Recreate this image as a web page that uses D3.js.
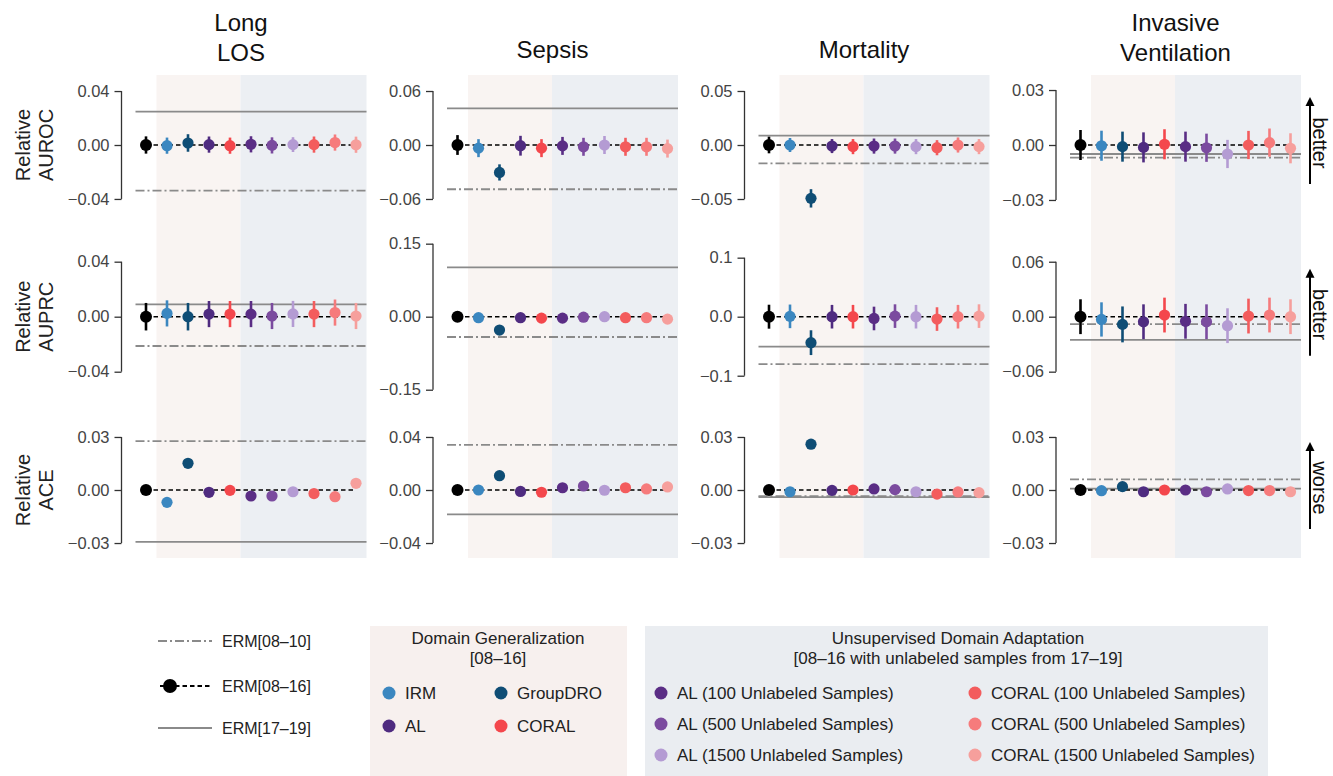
<!DOCTYPE html>
<html>
<head>
<meta charset="utf-8">
<script src="https://cdn.jsdelivr.net/npm/d3@7"></script>
<style>
  body { margin: 0; background: #fff; }
  text { font-family: "Liberation Sans", Arial, sans-serif; }
</style>
</head>
<body>
<div id="container"></div>
<script>
// ---- data ----
const tasks = [["Long", "LOS"], ["Sepsis"], ["Mortality"], ["Invasive", "Ventilation"]];
const metrics = ["AUROC", "AUPRC", "ACE"];
const arrowWords = ["better", "better", "worse"];

const methods = ["ERM[08–16]", "IRM", "GroupDRO", "AL", "CORAL",
  "AL (100 Unlabeled Samples)", "AL (500 Unlabeled Samples)", "AL (1500 Unlabeled Samples)",
  "CORAL (100 Unlabeled Samples)", "CORAL (500 Unlabeled Samples)", "CORAL (1500 Unlabeled Samples)"];
const methodColors = ["#000000", "#3b87c0", "#0f4d75", "#4f2b80", "#f4474c",
  "#5a2d85", "#7b4b9f", "#b49bd3", "#f35c5d", "#f67b7c", "#f69f9c"];

// rows: task order Long LOS, Sepsis, Mortality, Invasive Ventilation
const aurocMean = [
  [0, -0.0005, 0.0015, 0.0003, -0.0005, 0.0005, -0.0003, 0.0003, 0.0003, 0.0018, 0.0002],
  [0, -0.0035, -0.0305, -0.0008, -0.0035, -0.001, -0.002, 0, -0.002, -0.002, -0.004],
  [0, 0, -0.0494, -0.001, -0.0015, -0.001, -0.001, -0.0015, -0.0025, 0, -0.0015],
  [0, -0.0004, -0.0009, -0.0013, 0.0004, -0.0009, -0.0015, -0.0049, 0, 0.0013, -0.0018]
];
const aurocErr = [
  [0.0064, 0.006, 0.0065, 0.006, 0.006, 0.006, 0.006, 0.0055, 0.006, 0.006, 0.006],
  [0.011, 0.010, 0.009, 0.011, 0.010, 0.010, 0.010, 0.010, 0.010, 0.010, 0.010],
  [0.0077, 0.0065, 0.0085, 0.0065, 0.007, 0.007, 0.007, 0.007, 0.007, 0.007, 0.007],
  [0.0082, 0.0082, 0.0082, 0.0082, 0.0082, 0.0082, 0.0077, 0.0077, 0.0077, 0.0077, 0.0082]
];
const auprcMean = [
  [0, 0.0024, 0, 0.0019, 0.0019, 0.0019, 0.0005, 0.002, 0.0019, 0.003, 0.0005],
  [0, -0.002, -0.0274, -0.002, -0.003, -0.003, -0.001, 0, -0.002, -0.002, -0.005],
  [0, 0.0006, -0.044, 0, 0, -0.003, 0.001, 0, -0.004, 0, 0.001],
  [0, -0.003, -0.0084, -0.0055, 0.0018, -0.005, -0.0055, -0.0098, 0.0007, 0.0018, 0]
];
const auprcErr = [
  [0.010, 0.0095, 0.010, 0.0095, 0.0095, 0.0095, 0.0095, 0.0095, 0.0095, 0.0095, 0.0095],
  [0.004, 0.004, 0.004, 0.004, 0.004, 0.004, 0.004, 0.004, 0.004, 0.004, 0.004],
  [0.0203, 0.02, 0.021, 0.02, 0.02, 0.02, 0.02, 0.02, 0.02, 0.02, 0.02],
  [0.019, 0.0187, 0.0196, 0.019, 0.019, 0.019, 0.019, 0.019, 0.019, 0.019, 0.019]
];
const aceMean = [
  [0, -0.007, 0.0151, -0.0013, -0.0002, -0.0034, -0.0034, -0.001, -0.002, -0.0038, 0.0038],
  [0, 0, 0.0108, -0.0011, -0.0017, 0.0017, 0.003, -0.0002, 0.0017, 0.0008, 0.0023],
  [0, -0.001, 0.0259, -0.0002, 0, 0.0006, 0.0002, -0.001, -0.0023, -0.0011, -0.0015],
  [0, -0.0004, 0.0019, -0.001, 0, 0, -0.001, 0.0006, -0.0003, -0.0003, -0.001]
];
const aceErr = [
  [0.002, 0.002, 0.002, 0.002, 0.002, 0.002, 0.002, 0.002, 0.002, 0.002, 0.002],
  [0.001, 0.001, 0.001, 0.001, 0.001, 0.001, 0.001, 0.001, 0.001, 0.001, 0.001],
  [0.0008, 0.0008, 0.0008, 0.0008, 0.0008, 0.0008, 0.0008, 0.0008, 0.0008, 0.0008, 0.0008],
  [0.0006, 0.0006, 0.0006, 0.0006, 0.0006, 0.0006, 0.0006, 0.0006, 0.0006, 0.0006, 0.0006]
];

// reference lines, [metric][task]
const erm0810 = [
  [-0.0339, -0.0492, -0.017, -0.0069],
  [-0.0213, -0.0417, -0.0802, -0.008],
  [0.0277, 0.034, -0.0035, 0.006]
];
const erm1719 = [
  [0.0247, 0.0408, 0.0086, -0.0049],
  [0.009, 0.1015, -0.0508, -0.0254],
  [-0.0293, -0.0184, -0.004, 0.0008]
];

// y axis: symmetric limits, tick at +/- tickMax
const yLimits = [
  [0.0519, 0.0778, 0.0648, 0.0382],
  [0.0509, 0.1438, 0.1186, 0.0764],
  [0.0396, 0.0528, 0.0396, 0.0396]
];
const tickMax = [
  [0.04, 0.06, 0.05, 0.03],
  [0.04, 0.15, 0.1, 0.06],
  [0.03, 0.04, 0.03, 0.03]
];
const tickDigits = [
  [2, 2, 2, 2],
  [2, 2, 1, 2],
  [2, 2, 2, 2]
];

const dgGroup = ["IRM", "GroupDRO", "AL", "CORAL"];
const udaGroup = methods.slice(5);

const means = [aurocMean, auprcMean, aceMean];
const errs = [aurocErr, auprcErr, aceErr];

// ---- layout ----
const w = 1333;
const h = 776;
const colStep = 311.5;
const plotLeft0 = 135.5;
const plotW = 231;
const rowZero = [145, 316.7, 490];
const halfH = 70;
const grey = "#8a8a8a";
const pink = "#f9f4f2";
const blue = "#eceff3";

const svg = d3.select("#container")
              .append("svg")
              .attr("width", w)
              .attr("height", h);

tasks.forEach((title, c) => {
  const left = plotLeft0 + c * colStep;
  const x = d3.scaleLinear().domain([-0.5, 10.5]).range([left, left + plotW]);

  // shaded groups, continuous through the rows
  svg.append("rect")
     .attr("x", x(0.5)).attr("y", 75)
     .attr("width", x(4.5) - x(0.5)).attr("height", 483)
     .attr("fill", pink);
  svg.append("rect")
     .attr("x", x(4.5)).attr("y", 75)
     .attr("width", x(10.5) - x(4.5)).attr("height", 483)
     .attr("fill", blue);

  // title
  const tx = left + plotW / 2 - 10;
  const t = svg.append("text")
               .attr("x", tx)
               .attr("text-anchor", "middle")
               .style("font-size", "24px")
               .attr("fill", "#111");
  const base = title.length > 1 ? 31 : 58;
  title.forEach((line, i) => {
    t.append("tspan").attr("x", tx).attr("y", base + i * 30).text(line);
  });

  metrics.forEach((m, r) => {
    const zero = rowZero[r];
    const lim = yLimits[r][c];
    const y = d3.scaleLinear().domain([-lim, lim]).range([zero + halfH, zero - halfH]);
    const g = svg.append("g");

    // reference lines
    g.append("line")
     .attr("x1", x(-0.5)).attr("x2", x(10.5))
     .attr("y1", y(erm0810[r][c])).attr("y2", y(erm0810[r][c]))
     .attr("stroke", grey).attr("stroke-width", 1.8)
     .attr("stroke-dasharray", "9,3,2,3");
    g.append("line")
     .attr("x1", x(-0.5)).attr("x2", x(10.5))
     .attr("y1", y(erm1719[r][c])).attr("y2", y(erm1719[r][c]))
     .attr("stroke", grey).attr("stroke-width", 1.8);

    // ERM[08-16] baseline
    g.append("line")
     .attr("x1", x(0)).attr("x2", x(10))
     .attr("y1", y(0)).attr("y2", y(0))
     .attr("stroke", "#000").attr("stroke-width", 1.6)
     .attr("stroke-dasharray", "4.5,3");

    const pts = means[r][c].map((v, i) => ({ i: i, v: v, e: errs[r][c][i] }));

    g.selectAll(".err")
     .data(pts)
     .enter()
     .append("line")
     .attr("class", "err")
     .attr("x1", d => x(d.i)).attr("x2", d => x(d.i))
     .attr("y1", d => y(d.v - d.e)).attr("y2", d => y(d.v + d.e))
     .attr("stroke", d => methodColors[d.i])
     .attr("stroke-width", 2.6);

    g.selectAll(".dot")
     .data(pts)
     .enter()
     .append("circle")
     .attr("class", "dot")
     .attr("cx", d => x(d.i))
     .attr("cy", d => y(d.v))
     .attr("r", d => d.i === 0 ? 6 : 5.6)
     .attr("fill", d => methodColors[d.i]);

    // y axis, offset from the plot
    const tm = tickMax[r][c];
    const fmt = d3.format("." + tickDigits[r][c] + "f");
    const axis = d3.axisLeft(y)
                   .tickValues([tm, 0, -tm])
                   .tickFormat(v => fmt(v))
                   .tickSize(7)
                   .tickPadding(5);
    const ax = svg.append("g")
                  .attr("transform", `translate(${left - 14},0)`)
                  .call(axis);
    ax.select(".domain").remove();
    ax.selectAll(".tick line").attr("stroke", "#333").attr("stroke-width", 1.3);
    ax.selectAll(".tick text")
      .attr("fill", "#444")
      .style("font-size", "16.5px")
      .style("font-family", "'Liberation Sans', Arial, sans-serif");
    ax.append("line")
      .attr("x1", 0).attr("x2", 0)
      .attr("y1", y(tm)).attr("y2", y(-tm))
      .attr("stroke", "#333").attr("stroke-width", 1.3);

    // row labels
    if (c === 0) {
      svg.append("text")
         .attr("transform", `translate(23,${zero}) rotate(-90)`)
         .attr("text-anchor", "middle")
         .attr("dy", "0.35em")
         .style("font-size", "20px")
         .attr("fill", "#222")
         .text("Relative");
      svg.append("text")
         .attr("transform", `translate(46,${zero}) rotate(-90)`)
         .attr("text-anchor", "middle")
         .attr("dy", "0.35em")
         .style("font-size", "20px")
         .attr("fill", "#222")
         .text(m);
    }

    // direction arrows
    if (c === 3) {
      const axx = 1310;
      svg.append("line")
         .attr("x1", axx).attr("x2", axx)
         .attr("y1", zero + 39).attr("y2", zero - 40)
         .attr("stroke", "#000").attr("stroke-width", 2);
      svg.append("path")
         .attr("d", `M${axx - 4.5},${zero - 39} L${axx},${zero - 48} L${axx + 4.5},${zero - 39} Z`)
         .attr("fill", "#000");
      svg.append("text")
         .attr("transform", `translate(1320,${zero - 2}) rotate(90)`)
         .attr("text-anchor", "middle")
         .attr("dy", "0.35em")
         .style("font-size", "20px")
         .attr("fill", "#111")
         .text(arrowWords[r]);
    }
  });
});

// ---- legends ----
const leg = svg.append("g").style("font-size", "17px");

// ERM lines
leg.append("line").attr("x1", 158).attr("x2", 212).attr("y1", 641).attr("y2", 641)
   .attr("stroke", grey).attr("stroke-width", 1.8).attr("stroke-dasharray", "9,3,2,3");
leg.append("text").attr("x", 222).attr("y", 641).attr("dy", "0.35em").attr("fill", "#222")
   .style("font-size", "16px").text("ERM[08–10]");
leg.append("line").attr("x1", 160).attr("x2", 212).attr("y1", 686).attr("y2", 686)
   .attr("stroke", "#000").attr("stroke-width", 1.8).attr("stroke-dasharray", "4.5,3");
leg.append("circle").attr("cx", 170).attr("cy", 686).attr("r", 7).attr("fill", "#000");
leg.append("text").attr("x", 222).attr("y", 686).attr("dy", "0.35em").attr("fill", "#222")
   .style("font-size", "16px").text("ERM[08–16]");
leg.append("line").attr("x1", 158).attr("x2", 212).attr("y1", 728).attr("y2", 728)
   .attr("stroke", grey).attr("stroke-width", 1.8);
leg.append("text").attr("x", 222).attr("y", 728).attr("dy", "0.35em").attr("fill", "#222")
   .style("font-size", "16px").text("ERM[17–19]");

// Domain generalization box
leg.append("rect").attr("x", 370).attr("y", 626).attr("width", 257).attr("height", 150).attr("fill", "#f7f0ee");
leg.append("text").attr("x", 498).attr("y", 638).attr("dy", "0.35em").attr("text-anchor", "middle")
   .attr("fill", "#222").text("Domain Generalization");
leg.append("text").attr("x", 498).attr("y", 658).attr("dy", "0.35em").attr("text-anchor", "middle")
   .attr("fill", "#222").text("[08–16]");
dgGroup.forEach((name, k) => {
  const ci = methods.indexOf(name);
  const lx = 389 + (k % 2) * 112;
  const ly = 693 + Math.floor(k / 2) * 33;
  leg.append("circle").attr("cx", lx).attr("cy", ly).attr("r", 6.5).attr("fill", methodColors[ci]);
  leg.append("text").attr("x", lx + 16).attr("y", ly).attr("dy", "0.35em").attr("fill", "#222").text(name);
});

// Unsupervised domain adaptation box
leg.append("rect").attr("x", 645).attr("y", 626).attr("width", 623).attr("height", 150).attr("fill", "#eaedf1");
leg.append("text").attr("x", 958).attr("y", 638).attr("dy", "0.35em").attr("text-anchor", "middle")
   .attr("fill", "#222").text("Unsupervised Domain Adaptation");
leg.append("text").attr("x", 958).attr("y", 658).attr("dy", "0.35em").attr("text-anchor", "middle")
   .attr("fill", "#222").text("[08–16 with unlabeled samples from 17–19]");
udaGroup.forEach((name, k) => {
  const ci = methods.indexOf(name);
  const lx = 661 + Math.floor(k / 3) * 314;
  const ly = 693 + (k % 3) * 31;
  leg.append("circle").attr("cx", lx).attr("cy", ly).attr("r", 6.5).attr("fill", methodColors[ci]);
  leg.append("text").attr("x", lx + 16).attr("y", ly).attr("dy", "0.35em").attr("fill", "#222").text(name);
});
</script>
</body>
</html>
